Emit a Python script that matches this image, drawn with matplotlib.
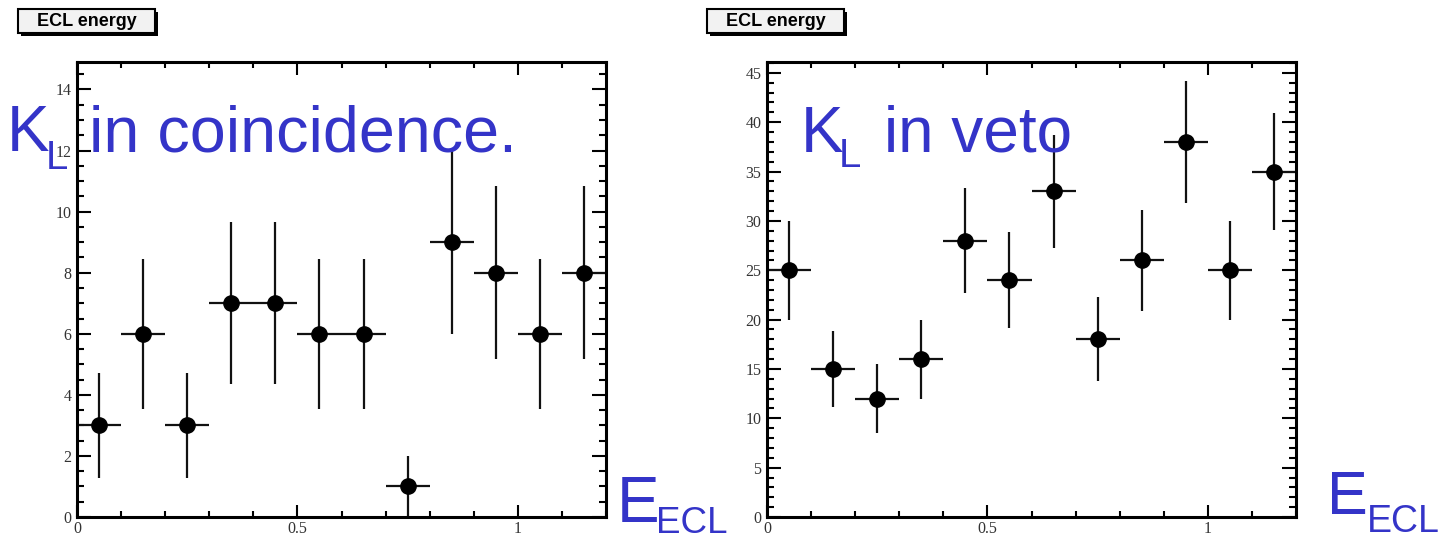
import matplotlib
matplotlib.use("Agg")
import matplotlib.pyplot as plt
from matplotlib.patches import Rectangle
from matplotlib.ticker import MultipleLocator

# ---- data ----
bin_centers = [0.05, 0.15, 0.25, 0.35, 0.45, 0.55, 0.65, 0.75, 0.85, 0.95, 1.05, 1.15]
bin_half_width = [0.05] * 12
coinc_counts = [3, 6, 3, 7, 7, 6, 6, 1, 9, 8, 6, 8]
coinc_errors = [1.73, 2.45, 1.73, 2.65, 2.65, 2.45, 2.45, 1.0, 3.0, 2.83, 2.45, 2.83]
veto_counts = [25, 15, 12, 16, 28, 24, 33, 18, 26, 38, 25, 35]
veto_errors = [5.0, 3.87, 3.46, 4.0, 5.29, 4.90, 5.74, 4.24, 5.10, 6.16, 5.0, 5.92]
x_ticks = [0, 0.5, 1]
x_tick_labels = ["0", "0.5", "1"]
coinc_yticks = [0, 2, 4, 6, 8, 10, 12, 14]
veto_yticks = [0, 5, 10, 15, 20, 25, 30, 35, 40, 45]
hist_title = "ECL energy"

W, H = 1444, 540
fig = plt.figure(figsize=(W / 100, H / 100), dpi=100)
fig.patch.set_facecolor("white")

BLUE = "#3434c8"
SERIF = ["Liberation Serif", "DejaVu Serif"]
SANS = ["Liberation Sans", "DejaVu Sans"]


def px(x, y_top):
    return x / W, 1 - y_top / H


def make_axes(left_px, counts, errors, yticks, ymax, yminor):
    ax = fig.add_axes([left_px / W, 23 / H, 529 / W, 455 / H])
    ax.errorbar(bin_centers, counts, yerr=errors, xerr=bin_half_width,
                fmt="o", color="black", ecolor="#111111", elinewidth=1.6,
                markersize=11, capsize=0)
    ax.set_xlim(0, 1.2)
    ax.set_ylim(0, ymax)
    ax.set_xticks(x_ticks)
    ax.set_xticklabels(x_tick_labels)
    ax.set_yticks(yticks)
    ax.set_yticklabels([str(v) for v in yticks])
    ax.xaxis.set_minor_locator(MultipleLocator(0.1))
    ax.yaxis.set_minor_locator(MultipleLocator(yminor))
    for s in ax.spines.values():
        s.set_linewidth(2.2)
    ax.tick_params(which="both", direction="in", top=True, right=True,
                   width=1.5, colors="black", labelcolor="#333333")
    ax.tick_params(axis="y", which="major", length=10, pad=4)
    ax.tick_params(axis="y", which="minor", length=5)
    ax.tick_params(axis="x", which="major", length=9, pad=3)
    ax.tick_params(axis="x", which="minor", length=4)
    for lab in ax.get_xticklabels() + ax.get_yticklabels():
        lab.set_fontfamily(SERIF)
        lab.set_fontsize(11.5)
    return ax


make_axes(77, coinc_counts, coinc_errors, coinc_yticks, 14.9, 0.5)
make_axes(767, veto_counts, veto_errors, veto_yticks, 46.1, 1)


def title_box(x0, y0, w, h, text):
    sx, sy = px(x0 + 3, y0 + h + 3)
    fig.patches.append(Rectangle((sx, sy), w / W, h / H, transform=fig.transFigure,
                                 facecolor="black", edgecolor="black", lw=0, zorder=5))
    bx, by = px(x0, y0 + h)
    fig.patches.append(Rectangle((bx, by), w / W, h / H, transform=fig.transFigure,
                                 facecolor="#f2f2f2", edgecolor="black", lw=1.5, zorder=6))
    tx, ty = px(x0 + w / 2, y0 + h / 2 + 1)
    fig.text(tx, ty, text, ha="center", va="center", fontsize=13,
             fontweight="bold", family=SANS, color="black", zorder=7)


title_box(18, 9, 137, 24, hist_title)
title_box(707, 9, 137, 24, hist_title)


def blue_text(x, y_base, s, size):
    fx, fy = px(x, y_base)
    fig.text(fx, fy, s, ha="left", va="baseline", fontsize=size,
             family=SANS, color=BLUE, zorder=10)


# left panel annotations
blue_text(7, 151, "K", 46)
blue_text(46, 169, "L", 29)
blue_text(89, 151, "in coincidence.", 46.5)
blue_text(617, 522, "E", 46)
blue_text(656, 533, "ECL", 26.5)

# right panel annotations
blue_text(801, 152, "K", 46)
blue_text(839, 167, "L", 29)
blue_text(884, 152, "in veto", 46)
blue_text(1327, 514, "E", 44)
blue_text(1367, 532, "ECL", 27)

fig.savefig("out.png", dpi=100)
